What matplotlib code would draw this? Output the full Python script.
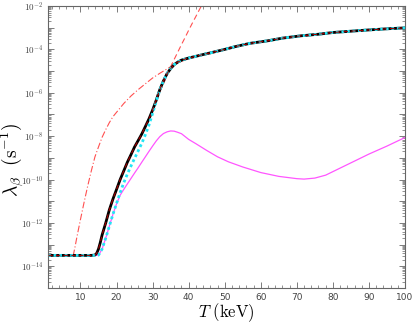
import numpy as np
import matplotlib
matplotlib.use('Agg')
import matplotlib.pyplot as plt
from matplotlib.ticker import FixedLocator, LogLocator, FuncFormatter, MultipleLocator

plt.rcParams['mathtext.fontset'] = 'cm'

# full rate (black solid, dark red dashed on top)
T_full = [1, 5, 10, 13, 14, 14.5, 15, 15.5, 16, 17, 18, 19, 20, 21, 22, 23, 24, 25, 26, 27, 28,
          29, 30, 31, 32, 33, 34, 35, 36, 37, 38, 40, 42, 44, 46, 50, 53, 57, 62, 66, 71, 76, 80,
          85, 90, 95, 100]
lam_full = [3.2e-14, 3.2e-14, 3.2e-14, 3.2e-14, 3.3e-14, 4.0e-14, 6.3e-14, 1.26e-13, 2.8e-13,
            1.0e-12, 4.0e-12, 1.26e-11, 3.5e-11, 1.0e-10, 2.5e-10, 6.3e-10, 1.4e-9, 3.2e-9,
            6.3e-9, 1.26e-8, 2.8e-8, 6.3e-8, 1.6e-7, 4.5e-7, 1.4e-6, 3.5e-6, 7.6e-6, 1.3e-5,
            2.0e-5, 2.6e-5, 3.2e-5, 4.0e-5, 4.8e-5, 5.8e-5, 6.9e-5, 1.0e-4, 1.35e-4, 1.9e-4,
            2.5e-4, 3.3e-4, 4.2e-4, 5.0e-4, 6.0e-4, 6.9e-4, 7.9e-4, 8.9e-4, 9.8e-4]

# cyan dotted
T_cyan = [1, 5, 10, 14, 15, 15.5, 16, 17, 18, 19, 20, 21, 22, 23, 24, 25, 26, 27, 28, 29, 30,
          31, 32, 33, 34, 35, 36, 37, 38, 40, 42, 44, 46, 50, 53, 57, 62, 66, 71, 76, 80, 85,
          90, 95, 100]
lam_cyan = [3.2e-14, 3.2e-14, 3.2e-14, 3.2e-14, 3.3e-14, 4.5e-14, 6.3e-14, 2.0e-13, 7.1e-13,
            2.5e-12, 7.9e-12, 2.5e-11, 7.1e-11, 1.8e-10, 4.2e-10, 9.5e-10, 2.1e-9, 4.7e-9,
            1.17e-8, 3.3e-8, 1.12e-7, 4.0e-7, 1.35e-6, 3.5e-6, 7.6e-6, 1.3e-5, 2.0e-5, 2.6e-5,
            3.2e-5, 4.0e-5, 4.8e-5, 5.8e-5, 6.9e-5, 1.0e-4, 1.35e-4, 1.9e-4, 2.5e-4, 3.3e-4,
            4.2e-4, 5.0e-4, 6.0e-4, 6.9e-4, 7.9e-4, 8.9e-4, 9.8e-4]

# magenta solid
T_mag = [1, 5, 10, 14, 15, 15.5, 16, 17, 18, 19, 20, 21, 22, 23, 24, 25, 26, 27, 28, 29, 30,
         31, 32, 33, 34, 35, 36, 37, 38, 40, 42, 45, 48, 51, 55, 60, 65, 70, 72, 75, 78, 81,
         85, 90, 95, 100]
lam_mag = [3.2e-14, 3.2e-14, 3.2e-14, 3.2e-14, 3.3e-14, 4.5e-14, 6.3e-14, 2.0e-13, 7.1e-13,
           2.5e-12, 7.6e-12, 1.9e-11, 3.5e-11, 6.3e-11, 1.12e-10, 2.0e-10, 3.5e-10, 6.3e-10,
           1.12e-9, 2.0e-9, 3.5e-9, 6.0e-9, 9.5e-9, 1.32e-8, 1.58e-8, 1.74e-8, 1.7e-8,
           1.5e-8, 1.3e-8, 7.1e-9, 4.5e-9, 2.2e-9, 1.12e-9, 6.6e-10, 3.8e-10, 2.1e-10,
           1.4e-10, 1.1e-10, 1.05e-10, 1.17e-10, 1.6e-10, 2.8e-10, 5.9e-10, 1.5e-9, 3.5e-9,
           8.7e-9]

# light red dashed (steep branch)
T_dash = [26, 27, 28, 29, 30, 31, 32, 33, 34, 35, 36, 37, 38, 39, 40, 41, 42, 43, 44, 44.5]
lam_dash = [6.3e-9, 1.26e-8, 2.8e-8, 6.3e-8, 1.6e-7, 4.5e-7, 1.1e-6, 2.5e-6, 6.3e-6, 1.6e-5,
            3.5e-5, 7.6e-5, 1.66e-4, 3.5e-4, 7.6e-4, 1.6e-3, 3.3e-3, 6.9e-3, 1.4e-2, 2.0e-2]

# light red dash-dot
T_dd = [1, 5, 8, 8.5, 9, 10, 11, 12, 13, 14, 15, 16, 17, 18, 19, 20, 22, 24, 26, 28, 30, 32,
        34, 36, 38, 40, 42, 44, 46, 50, 53, 57, 62, 66, 71, 76, 80, 85, 90, 95, 100]
lam_dd = [3.2e-14, 3.2e-14, 3.2e-14, 8.0e-14, 2.2e-13, 1.45e-12, 8.9e-12, 5.0e-11, 2.5e-10,
          1.1e-9, 3.2e-9, 8.9e-9, 2.0e-8, 4.2e-8, 7.9e-8, 1.26e-7, 3.2e-7, 7.1e-7, 1.4e-6,
          2.6e-6, 4.8e-6, 7.9e-6, 1.26e-5, 2.0e-5, 2.8e-5, 3.8e-5, 4.8e-5, 5.8e-5, 6.9e-5,
          1.0e-4, 1.35e-4, 1.9e-4, 2.5e-4, 3.3e-4, 4.2e-4, 5.0e-4, 6.0e-4, 6.9e-4, 7.9e-4,
          8.9e-4, 9.8e-4]

fig = plt.figure(figsize=(4.15, 3.24), dpi=100)
ax = fig.add_axes([0.1157, 0.111, 0.8603, 0.8705])

ax.plot(T_dd, lam_dd, color='#ff5050', lw=0.8, ls=(0, (6, 2, 1, 2)))
ax.plot(T_dash, lam_dash, color='#ff5050', lw=0.8, ls=(0, (5, 3)))
ax.plot(T_mag, lam_mag, color='#ff55ff', lw=0.9)
ax.plot(T_full, lam_full, color='black', lw=2.0)
ax.plot(T_cyan, lam_cyan, color='#22e5f5', lw=2.0, ls=(0, (1, 1)))
ax.plot(T_full, lam_full, color='#a00000', lw=0.8, ls=(0, (4, 3)))

ax.set_yscale('log')
ax.set_xlim(1, 100)
ax.set_ylim(1e-15, 1e-2)

ax.xaxis.set_major_locator(FixedLocator([10, 20, 30, 40, 50, 60, 70, 80, 90, 100]))
ax.xaxis.set_minor_locator(MultipleLocator(2))
ax.yaxis.set_major_locator(LogLocator(base=10, numticks=30))
ax.yaxis.set_minor_locator(LogLocator(base=10, subs=np.arange(2, 10), numticks=100))


def fmt(v, pos):
    e = int(round(np.log10(v)))
    if e % 2 == 0:
        return r'$10^{%d}$' % e
    return ''


ax.yaxis.set_major_formatter(FuncFormatter(fmt))
ax.yaxis.set_minor_formatter(FuncFormatter(lambda v, p: ''))

ax.tick_params(which='both', direction='in', top=True, right=True, colors='#666666',
               labelcolor='#444444', labelsize=6.5)
ax.tick_params(which='major', length=4, width=0.6)
ax.tick_params(which='minor', length=2, width=0.5)
for s in ax.spines.values():
    s.set_color('#666666')
    s.set_linewidth(0.8)

ax.set_xlabel(r'$T\ (\mathrm{keV})$', fontsize=12, va='center')
ax.xaxis.set_label_coords(0.5, -0.088)
ax.set_ylabel(r'$\lambda_\beta\ \ (\mathrm{s}^{-1})$', fontsize=14, va='center')
ax.yaxis.set_label_coords(-0.1, 0.454)

fig.savefig('out.png', dpi=100)
